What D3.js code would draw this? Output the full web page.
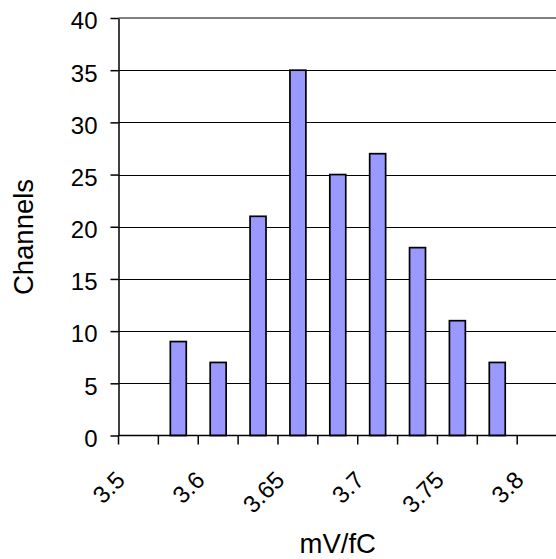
<!DOCTYPE html>
<html>
<head>
<meta charset="utf-8">
<script src="https://cdn.jsdelivr.net/npm/d3@7"></script>
<style>
  html, body { margin: 0; padding: 0; background: #fff; }
  svg { display: block; }
  text { font-family: "Liberation Sans", Arial, sans-serif; fill: #000; }
</style>
</head>
<body>
<svg id="chart" width="556" height="559"></svg>
<script>
// Category bins (mV/fC); only every other label is shown on the axis
const categories = ["3.5", "3.575", "3.6", "3.625", "3.65", "3.675", "3.7", "3.725", "3.75", "3.775", "3.8"];
const shownLabels = ["3.5", "3.6", "3.65", "3.7", "3.75", "3.8"];
const channels = [0, 9, 7, 21, 35, 25, 27, 18, 11, 7, 0];
const yTicks = [0, 5, 10, 15, 20, 25, 30, 35, 40];
const xTitle = "mV/fC";
const yTitle = "Channels";

(function () {
const svg = d3.select("#chart");
const pLeft = 118.5, pBottom = 435.5, pTop = 18, band = 39.87;
const pRight = pLeft + categories.length * band;

const x = d3.scaleBand().domain(categories).range([pLeft, pRight]).paddingInner(0).paddingOuter(0);
const y = d3.scaleLinear().domain([0, 40]).range([pBottom, pTop]);

// gridlines
svg.append("g").selectAll("line")
  .data(yTicks.filter(t => t > 0 && t < 40))
  .join("line")
  .attr("x1", pLeft).attr("x2", 556)
  .attr("y1", d => Math.round(y(d)) + 0.5).attr("y2", d => Math.round(y(d)) + 0.5)
  .attr("stroke", "#000").attr("stroke-width", 1);

// top plot border (gray)
svg.append("line")
  .attr("x1", pLeft).attr("x2", 556)
  .attr("y1", y(40)).attr("y2", y(40))
  .attr("stroke", "#808080").attr("stroke-width", 2);

// bars
const data = categories.map((c, i) => ({ c, v: channels[i] })).filter(d => d.v > 0);
const bw = x.bandwidth() * 0.4;
svg.append("g").selectAll("rect")
  .data(data)
  .join("rect")
  .attr("x", d => x(d.c) + (x.bandwidth() - bw) / 2)
  .attr("y", d => y(d.v))
  .attr("width", bw)
  .attr("height", d => y(0) - y(d.v))
  .attr("fill", "#9999FF")
  .attr("stroke", "#000")
  .attr("stroke-width", 1.7);

// y axis
const yAxis = d3.axisLeft(y).tickValues(yTicks).tickSize(8).tickPadding(13).tickSizeOuter(0);
const gy = svg.append("g").attr("transform", `translate(${pLeft},0)`).call(yAxis);
gy.select(".domain").attr("stroke", "#000").attr("stroke-width", 1.5);
gy.selectAll(".tick line").attr("stroke", "#000").attr("stroke-width", 1.5);
gy.selectAll(".tick text").attr("font-size", 24).attr("dy", "0.45em")
  .style("font-family", "'Liberation Sans', Arial, sans-serif").attr("fill", "#000");

// x axis line
svg.append("line")
  .attr("x1", pLeft).attr("x2", 556)
  .attr("y1", pBottom).attr("y2", pBottom)
  .attr("stroke", "#000").attr("stroke-width", 1.5);

// x ticks at band boundaries
const boundaries = categories.map(c => x(c)).concat([pRight]).filter(v => v <= 556);
svg.append("g").selectAll("line")
  .data(boundaries)
  .join("line")
  .attr("x1", d => d).attr("x2", d => d)
  .attr("y1", pBottom).attr("y2", pBottom + 9)
  .attr("stroke", "#000").attr("stroke-width", 1.5);

// x labels, rotated
svg.append("g").selectAll("text")
  .data(categories.filter(c => shownLabels.includes(c)))
  .join("text")
  .attr("transform", d => `translate(${x(d) + x.bandwidth() / 2 - 12},${pBottom + 46}) rotate(-45)`)
  .attr("text-anchor", "end")
  .attr("font-size", 24)
  .text(d => d);

// axis titles
svg.append("text")
  .attr("x", (pLeft + pRight) / 2)
  .attr("y", 553)
  .attr("text-anchor", "middle")
  .attr("font-size", 27.5)
  .text(xTitle);

svg.append("text")
  .attr("transform", `translate(33,237) rotate(-90)`)
  .attr("text-anchor", "middle")
  .attr("font-size", 27.5)
  .text(yTitle);
})();
</script>
</body>
</html>
